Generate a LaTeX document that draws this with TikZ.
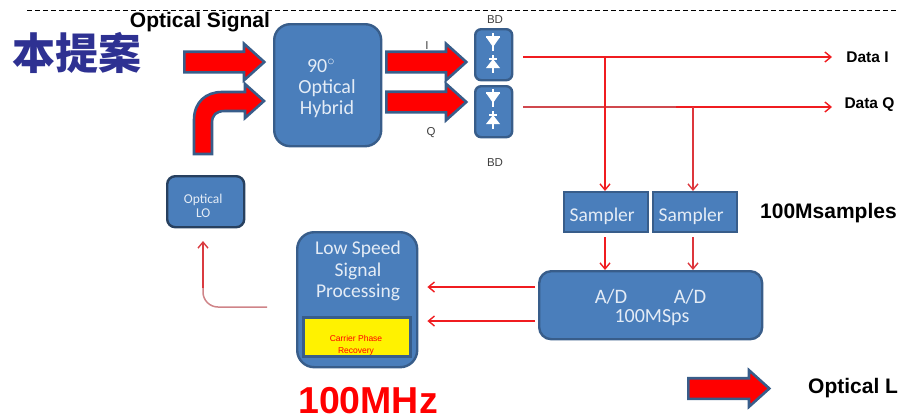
\documentclass[tikz,border=0pt]{standalone}
\usepackage{fontspec}
\setmainfont{Carlito}
\newfontfamily\arialf{Liberation Sans}
\newfontfamily\cjkf{Noto Sans CJK SC}
\usetikzlibrary{arrows.meta,shapes.arrows}
\definecolor{blockfill}{HTML}{4A7EBB}
\definecolor{blockedge}{HTML}{385D8A}
\definecolor{darkedge}{HTML}{27405F}
\definecolor{lineRed}{HTML}{F01C20}
\definecolor{dullRed}{HTML}{D0484E}
\definecolor{paleRed}{HTML}{CF8488}
\definecolor{titleblue}{HTML}{2E3192}
\definecolor{paletext}{HTML}{E4ECF6}
\tikzset{
  x=1pt,y=-1pt,
  blockbase/.style={draw=blockedge,line width=2.4pt,fill=blockfill,text=paletext,align=center,inner sep=0pt,anchor=north west},
  roundblock/.style={blockbase,rounded corners=#1},
  blocktext/.style={text=paletext,align=center,inner sep=0pt},
  barb/.style={-{Straight Barb[length=6pt,width=10pt,line width=1.4pt]}},
  sigline/.style={draw=lineRed,line width=1.5pt,barb},
  bigarrow/.style={single arrow,draw=blockedge,line width=2.6pt,fill=red,anchor=west,inner xsep=0pt,inner ysep=9pt,minimum height=#1,minimum width=0pt,single arrow head extend=8pt,single arrow tip angle=84},
  boldlabel/.style={text=black,inner sep=0pt},
  smalllabel/.style={font=\arialf\fontsize{11.5}{13}\selectfont,text=black!75,inner sep=0pt},
}
\newcommand{\diodedown}[2]{%
  \fill[white] (#1-7,#2-5) -- (#1+7,#2-5) -- (#1,#2+5) -- cycle;
  \draw[white,line width=1.3pt] (#1,#2-9) -- (#1,#2+9);
  \draw[white,line width=1.6pt] (#1-7,#2-5) -- (#1+7,#2-5);
}
\newcommand{\diodeup}[2]{%
  \fill[white] (#1-7,#2+4) -- (#1+7,#2+4) -- (#1,#2-5) -- cycle;
  \draw[white,line width=1.3pt] (#1,#2-9) -- (#1,#2+9);
  \draw[white,line width=1.2pt] (#1-4,#2-5) -- (#1+4,#2-5);
}
\begin{document}
\begin{tikzpicture}
\useasboundingbox (0,0) rectangle (898,418);
% dashed top rule
\draw[line width=0.8pt,dash pattern=on 5pt off 3pt] (27,10) -- (898,10);
% blocks
\node[roundblock=16pt,minimum width=107pt,minimum height=122pt] (hybrid) at (273,23) {};
\node[blocktext,font=\fontsize{20}{21}\selectfont] (hybridtxt) at (327,88.5) {\hspace*{-12pt}90$^{\circ}$\\Optical\\Hybrid};
\node[roundblock=6pt,minimum width=37pt,minimum height=51pt] (bdi) at (474,28) {};
\node[roundblock=6pt,minimum width=37pt,minimum height=51pt] (bdq) at (474,85) {};
\diodedown{493}{42}\diodeup{493}{64}\diodedown{493}{98}\diodeup{493}{120}
\node[roundblock=8pt,draw=darkedge,minimum width=77pt,minimum height=51pt,font=\fontsize{13.5}{14}\selectfont] (lo) at (166,175) {\rule{0pt}{17pt}Optical\kern5pt\\LO\kern5pt};
\node[roundblock=17pt,minimum width=120pt,minimum height=135pt] (lsp) at (296,231) {};
\node[blocktext,font=\fontsize{19.5}{21.5}\selectfont] (lsptxt) at (358,271) {Low Speed\\Signal\\Processing};
\node[draw=blockedge,line width=3pt,fill=yellow,anchor=north west,minimum width=107pt,minimum height=39pt,inner sep=0pt] (cpr) at (302,316) {};
\node[text=red,align=center,font=\arialf\fontsize{8.5}{12}\selectfont,inner sep=0pt] (cprtxt) at (356,345) {Carrier Phase\\Recovery};
\node[blockbase,minimum width=84pt,minimum height=40pt,font=\fontsize{19.5}{20}\selectfont] (s1) at (563,191) {\rule{0pt}{21pt}Sampler\kern8pt};
\node[blockbase,minimum width=84pt,minimum height=40pt,font=\fontsize{19.5}{20}\selectfont] (s2) at (652,191) {\rule{0pt}{21pt}Sampler\kern8pt};
\node[roundblock=12pt,minimum width=223pt,minimum height=68pt] (ad) at (538,270) {};
\node[blocktext,font=\fontsize{20.5}{20}\selectfont] (ad1) at (611,297) {A/D};
\node[blocktext,font=\fontsize{20.5}{20}\selectfont] (ad2) at (690,297) {A/D};
\node[blocktext,font=\fontsize{20}{20}\selectfont] (ad3) at (652,318) {100MSps};
% big arrows
\node[bigarrow=80pt] (aS) at (183,62) {};
\node[bigarrow=80pt] (aI) at (385,62) {};
\node[bigarrow=80pt] (aQ) at (385,102) {};
\node[bigarrow=81pt] (aL) at (687,388.5) {};
% bent arrow
\draw[blockedge,line width=2.6pt,fill=red,line join=miter]
  (194,154) -- (194,120) .. controls (194,102) and (206,92) .. (222,92)
  -- (245,92) -- (245,84) -- (264,101) -- (245,118) -- (245,111)
  -- (225,111) .. controls (216,111) and (212,115) .. (212,123) -- (212,154) -- cycle;
% connector lines
\coordinate (dI) at (832,57);
\coordinate (dQ) at (832,107);
\coordinate (jI) at (605,57);
\coordinate (jQ) at (693,107);
\draw[sigline] (bdi.east |- dI) ++(10,0) -- (dI);
\draw[sigline] (bdq.east |- dQ) ++(10,0) -- (dQ);
\draw[draw=dullRed,line width=1.5pt] (bdq.east |- dQ) ++(10,0) -- (676,107);
\draw[sigline] (jI) -- (jI |- s1.north);
\draw[sigline,draw=dullRed!60!lineRed] (jQ) -- (jQ |- s2.north);
\draw[sigline] (jI |- s1.south) ++(0,4) -- (jI |- ad.north);
\draw[sigline,draw=dullRed!60!lineRed] (jQ |- s2.south) ++(0,4) -- (jQ |- ad.north);
\coordinate (r1) at (0,287);
\coordinate (r2) at (0,321);
\draw[sigline] (ad.west |- r1) ++(-3,0) -- ([xshift=9pt]lsp.east |- r1);
\draw[sigline] (ad.west |- r2) ++(-3,0) -- ([xshift=9pt]lsp.east |- r2);
\coordinate (lsa) at (267,307);
\coordinate (lsb) at (203,288);
\draw[draw=paleRed,line width=1.5pt,rounded corners=15pt] (lsa) -- (203,307) -- (lsb);
\draw[sigline,draw=dullRed!70!lineRed] (lsb) -- (203,241);
% labels
\node[boldlabel,font=\arialf\bfseries\fontsize{21}{24}\selectfont] (optsig) at (200,22) {Optical Signal};
\node[font=\cjkf\bfseries\fontsize{43}{46}\selectfont,text=titleblue,inner sep=0pt] (title) at (77,53) {本提案};
\node[smalllabel] (li) at (427,46) {I};
\node[smalllabel] (lq) at (431,133) {Q};
\node[smalllabel] (bd1) at (495,20) {BD};
\node[smalllabel] (bd2) at (495,163) {BD};
\node[boldlabel,font=\arialf\bfseries\fontsize{15.5}{18}\selectfont] (ldi) at (867.5,57) {Data I};
\node[boldlabel,font=\arialf\bfseries\fontsize{15.5}{18}\selectfont] (ldq) at (869.5,105) {Data Q};
\node[boldlabel,font=\arialf\bfseries\fontsize{21}{24}\selectfont,anchor=west] (lms) at (760,213) {100Msamples};
\node[boldlabel,font=\arialf\bfseries\fontsize{21}{24}\selectfont,anchor=west] (lol) at (808,388) {Optical L};
\node[font=\arialf\bfseries\fontsize{37.5}{41}\selectfont,text=red,inner sep=0pt] (lmhz) at (368,401) {100MHz};
\end{tikzpicture}
\end{document}
